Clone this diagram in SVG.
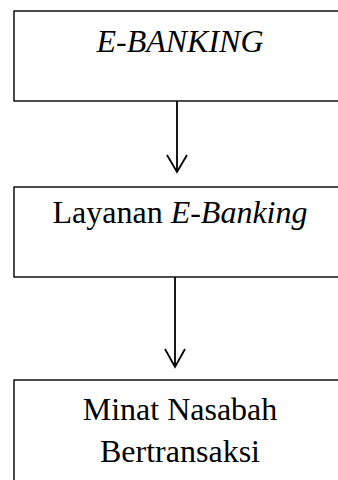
<svg xmlns="http://www.w3.org/2000/svg" width="338" height="480" viewBox="0 0 338 480">
<style>
.box{fill:#fff;stroke:#000;stroke-width:1.4}
.t{font-family:"Liberation Serif","Times New Roman",serif;font-size:32px;fill:#000;text-anchor:middle}
.i{font-style:italic}
.c{stroke:#000;stroke-width:1.8;fill:none}
</style>
<rect width="338" height="480" fill="#fff"/>
<g id="n1">
<rect class="box" x="14" y="11" width="330" height="90"/>
<text class="t i" x="180" y="52">E-BANKING</text>
</g>
<g id="n2">
<rect class="box" x="14" y="187" width="330" height="90"/>
<text class="t" x="180" y="223">Layanan <tspan class="i">E-Banking</tspan></text>
</g>
<g id="n3">
<rect class="box" x="14" y="380" width="330" height="110"/>
<text class="t" x="180" y="420">Minat Nasabah</text>
<text class="t" x="180" y="462">Bertransaksi</text>
</g>
<g id="connectors">
<path class="c" d="M177,101 V172 M167,155 L177,172 L187,155"/>
<path class="c" d="M175,277 V367 M165,349 L175,367 L185,349"/>
</g>
</svg>
